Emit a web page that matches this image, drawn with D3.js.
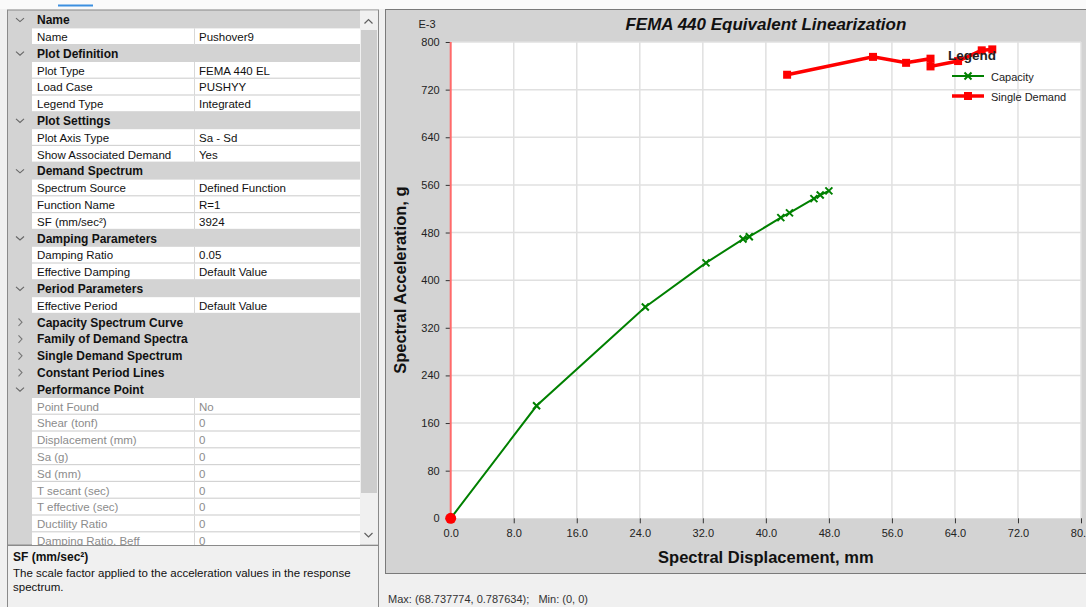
<!DOCTYPE html>
<html>
<head>
<meta charset="utf-8">
<script src="https://cdn.jsdelivr.net/npm/d3@7"></script>
<style>
  body { margin: 0; background: #f0f0f0; font-family: "Liberation Sans", Arial, sans-serif; }
  svg { display: block; }
</style>
</head>
<body>
<svg id="view" width="1086" height="607"></svg>
<script>
// property grid content
const gridRows = [
  ["h", "Name", ""],
  ["r", "Name", "Pushover9"],
  ["h", "Plot Definition", ""],
  ["r", "Plot Type", "FEMA 440 EL"],
  ["r", "Load Case", "PUSHYY"],
  ["r", "Legend Type", "Integrated"],
  ["h", "Plot Settings", ""],
  ["r", "Plot Axis Type", "Sa - Sd"],
  ["r", "Show Associated Demand", "Yes"],
  ["h", "Demand Spectrum", ""],
  ["r", "Spectrum Source", "Defined Function"],
  ["r", "Function Name", "R=1"],
  ["r", "SF (mm/sec²)", "3924"],
  ["h", "Damping Parameters", ""],
  ["r", "Damping Ratio", "0.05"],
  ["r", "Effective Damping", "Default Value"],
  ["h", "Period Parameters", ""],
  ["r", "Effective Period", "Default Value"],
  ["c", "Capacity Spectrum Curve", ""],
  ["c", "Family of Demand Spectra", ""],
  ["c", "Single Demand Spectrum", ""],
  ["c", "Constant Period Lines", ""],
  ["h", "Performance Point", ""],
  ["d", "Point Found", "No"],
  ["d", "Shear (tonf)", "0"],
  ["d", "Displacement (mm)", "0"],
  ["d", "Sa (g)", "0"],
  ["d", "Sd (mm)", "0"],
  ["d", "T secant (sec)", "0"],
  ["d", "T effective (sec)", "0"],
  ["d", "Ductility Ratio", "0"],
  ["d", "Damping Ratio, Beff", "0"]
];

// chart data (Sd in mm, Sa in E-3 g)
const capacitySd = [0, 10.9, 24.7, 32.4, 37.1, 37.9, 41.9, 43.0, 46.1, 46.9, 48.0];
const capacitySa = [0, 189, 355, 429, 469, 473, 505, 513, 537, 543, 550];
const demandSd = [42.7, 53.6, 57.8, 60.9, 60.9, 64.4, 67.4, 68.74];
const demandSa = [745, 775, 765, 772, 759, 768, 786, 787.6];
const xTicks = [0, 8, 16, 24, 32, 40, 48, 56, 64, 72, 80];
const yTicks = [0, 80, 160, 240, 320, 400, 480, 560, 640, 720, 800];

const svg = d3.select("#view");

// ---------- top strip ----------
svg.append("rect").attr("x", 0).attr("y", 0).attr("width", 1086).attr("height", 9).attr("fill", "#fafafa");
svg.append("line").attr("x1", 58).attr("x2", 93).attr("y1", 5.5).attr("y2", 5.5).attr("stroke", "#3c8fe0").attr("stroke-width", 2);

// ---------- property grid ----------
const rowH = 16.8, rowTop = 11.6;
const pg = svg.append("g");
pg.append("rect").attr("x", 7.5).attr("y", 10).attr("width", 371).attr("height", 535)
  .attr("fill", "#d3d3d3").attr("stroke", "#8a8a8a");

const rowG = pg.selectAll("g.row").data(gridRows).join("g")
  .attr("class", "row")
  .attr("transform", (d, i) => `translate(0,${rowTop + i * rowH})`);

rowG.filter(d => d[0] === "r" || d[0] === "d").append("rect")
  .attr("x", 32).attr("y", 0).attr("width", 328).attr("height", rowH - 1.2).attr("fill", "#ffffff");
rowG.filter(d => d[0] === "r" || d[0] === "d").append("line")
  .attr("x1", 194.5).attr("x2", 194.5).attr("y1", 0).attr("y2", rowH).attr("stroke", "#d8d8d8");

rowG.append("text")
  .attr("x", 37).attr("y", 12.5)
  .attr("font-size", d => d[0] === "r" || d[0] === "d" ? 11.5 : 12)
  .attr("font-weight", d => d[0] === "h" || d[0] === "c" ? "bold" : "normal")
  .attr("fill", d => d[0] === "d" ? "#8c8c8c" : "#111")
  .text(d => d[1]);
rowG.append("text")
  .attr("x", 199).attr("y", 12.5).attr("font-size", 11.5)
  .attr("fill", d => d[0] === "d" ? "#8c8c8c" : "#111")
  .text(d => d[2]);

// chevrons
rowG.filter(d => d[0] === "h").append("path")
  .attr("d", "M16,6.5 L20,10 L24,6.5").attr("fill", "none").attr("stroke", "#666").attr("stroke-width", 1.1);
rowG.filter(d => d[0] === "c").append("path")
  .attr("d", "M18.5,4.5 L22,8.2 L18.5,12").attr("fill", "none").attr("stroke", "#777").attr("stroke-width", 1.1);

// scrollbar
pg.append("rect").attr("x", 360).attr("y", 10.5).attr("width", 18).attr("height", 534).attr("fill", "#f0f0f0");
pg.append("rect").attr("x", 361).attr("y", 30).attr("width", 16).attr("height", 463).attr("fill", "#cdcdcd");
pg.append("path").attr("d", "M364.5,23.5 L368.5,19.5 L372.5,23.5").attr("fill", "none").attr("stroke", "#606060").attr("stroke-width", 1.2);
pg.append("path").attr("d", "M364.5,533 L368.5,537 L372.5,533").attr("fill", "none").attr("stroke", "#606060").attr("stroke-width", 1.2);
pg.append("line").attr("x1", 378.5).attr("x2", 378.5).attr("y1", 10).attr("y2", 545).attr("stroke", "#8a8a8a");

// description box
pg.append("rect").attr("x", 7.5).attr("y", 545.5).attr("width", 371).attr("height", 70)
  .attr("fill", "#f0f0f0").attr("stroke", "#8a8a8a");
pg.append("text").attr("x", 13).attr("y", 561).attr("font-size", 12).attr("font-weight", "bold").attr("fill", "#111").text("SF (mm/sec²)");
pg.append("text").attr("x", 13).attr("y", 577).attr("font-size", 11.5).attr("fill", "#111")
  .text("The scale factor applied to the acceleration values in the response");
pg.append("text").attr("x", 13).attr("y", 591).attr("font-size", 11.5).attr("fill", "#111").text("spectrum.");

// ---------- chart panel ----------
const cp = svg.append("g");
cp.append("rect").attr("x", 385.5).attr("y", 9.5).attr("width", 701).attr("height", 564)
  .attr("fill", "#d3d3d3").attr("stroke", "#7a7a7a");

const plotL = 450.7, plotR = 1081, plotT = 42, plotB = 518.3;
const x = d3.scaleLinear().domain([0, 80]).range([plotL, plotR]);
const y = d3.scaleLinear().domain([0, 800]).range([plotB, plotT]);

cp.append("rect").attr("x", plotL).attr("y", plotT).attr("width", plotR - plotL).attr("height", plotB - plotT).attr("fill", "#ffffff");

// grid
cp.append("g").selectAll("line").data(xTicks.slice(1)).join("line")
  .attr("x1", d => x(d)).attr("x2", d => x(d)).attr("y1", plotT).attr("y2", plotB)
  .attr("stroke", "#e0e0e0").attr("stroke-width", 1.5);
cp.append("g").selectAll("line").data(yTicks.slice(1)).join("line")
  .attr("x1", plotL).attr("x2", plotR).attr("y1", d => y(d)).attr("y2", d => y(d))
  .attr("stroke", "#e0e0e0").attr("stroke-width", 1.5);

// axes
const xAxis = cp.append("g").attr("transform", `translate(0,${plotB})`)
  .call(d3.axisBottom(x).tickValues(xTicks).tickFormat(d3.format(".1f")).tickSize(5).tickPadding(6));
const yAxis = cp.append("g").attr("transform", `translate(${plotL},0)`)
  .call(d3.axisLeft(y).tickValues(yTicks).tickFormat(d3.format("d")).tickSize(5).tickPadding(6));
[xAxis, yAxis].forEach(a => {
  a.select(".domain").remove();
  a.selectAll("text").attr("font-family", "Liberation Sans, Arial, sans-serif").attr("font-size", 11).attr("fill", "#222");
  a.selectAll(".tick line").attr("stroke", "#333");
});

cp.append("text").attr("x", 427).attr("y", 28).attr("text-anchor", "middle").attr("font-size", 11).attr("fill", "#222").text("E-3");

// titles
cp.append("text").attr("x", (plotL + plotR) / 2).attr("y", 30).attr("text-anchor", "middle")
  .attr("font-size", 17).attr("font-weight", "bold").attr("font-style", "italic").attr("fill", "#111")
  .text("FEMA 440 Equivalent Linearization");
cp.append("text").attr("x", (plotL + plotR) / 2).attr("y", 563).attr("text-anchor", "middle")
  .attr("font-size", 16.5).attr("font-weight", "bold").attr("fill", "#111")
  .text("Spectral Displacement, mm");
cp.append("text").attr("transform", `translate(406,${(plotT + plotB) / 2}) rotate(-90)`).attr("text-anchor", "middle")
  .attr("font-size", 16.5).attr("font-weight", "bold").attr("fill", "#111")
  .text("Spectral Acceleration, g");

// red vertical line at Sd = 0
cp.append("line").attr("x1", x(0)).attr("x2", x(0)).attr("y1", y(800)).attr("y2", y(0))
  .attr("stroke", "#ff6a6a").attr("stroke-width", 2);

// capacity curve
const capacity = capacitySd.map((d, i) => [d, capacitySa[i]]);
const demand = demandSd.map((d, i) => [d, demandSa[i]]);
const line = d3.line().x(d => x(d[0])).y(d => y(d[1]));

cp.append("path").datum(capacity).attr("d", line).attr("fill", "none").attr("stroke", "#008000").attr("stroke-width", 2);
const cross = "M-3.5,-3.5 L3.5,3.5 M-3.5,3.5 L3.5,-3.5";
cp.append("g").selectAll("path").data(capacity.slice(1)).join("path")
  .attr("d", cross).attr("transform", d => `translate(${x(d[0])},${y(d[1])})`)
  .attr("stroke", "#008000").attr("stroke-width", 2).attr("fill", "none");

// single demand
cp.append("path").datum(demand).attr("d", line).attr("fill", "none").attr("stroke", "#ff0000").attr("stroke-width", 3.5);
cp.append("g").selectAll("rect").data(demand).join("rect")
  .attr("x", d => x(d[0]) - 4).attr("y", d => y(d[1]) - 4).attr("width", 8).attr("height", 8).attr("fill", "#ff0000");

// origin dot
cp.append("circle").attr("cx", x(0)).attr("cy", y(0)).attr("r", 5.5).attr("fill", "#ff0000");

// legend
const legendItems = [["Capacity", "#008000", "x"], ["Single Demand", "#ff0000", "s"]];
const lg = cp.append("g");
lg.append("text").attr("x", 948).attr("y", 60).attr("font-size", 13.5).attr("font-weight", "bold").attr("fill", "#222").text("Legend");
const li = lg.selectAll("g").data(legendItems).join("g").attr("transform", (d, i) => `translate(0,${76 + i * 20})`);
li.append("line").attr("x1", 952).attr("x2", 984).attr("y1", 0).attr("y2", 0)
  .attr("stroke", d => d[1]).attr("stroke-width", d => d[2] === "x" ? 2 : 3.5);
li.filter(d => d[2] === "x").append("path").attr("d", cross).attr("transform", "translate(968,0)")
  .attr("stroke", "#008000").attr("stroke-width", 2);
li.filter(d => d[2] === "s").append("rect").attr("x", 964).attr("y", -4).attr("width", 8).attr("height", 8).attr("fill", "#ff0000");
li.append("text").attr("x", 991).attr("y", 4.5).attr("font-size", 11).attr("fill", "#222").text(d => d[0]);

// status bar
svg.append("rect").attr("x", 385).attr("y", 574).attr("width", 701).attr("height", 33).attr("fill", "#f0f0f0");
svg.append("text").attr("x", 388).attr("y", 603).attr("font-size", 11).attr("fill", "#333")
  .attr("xml:space", "preserve").text("Max: (68.737774, 0.787634);   Min: (0, 0)");
</script>
</body>
</html>
